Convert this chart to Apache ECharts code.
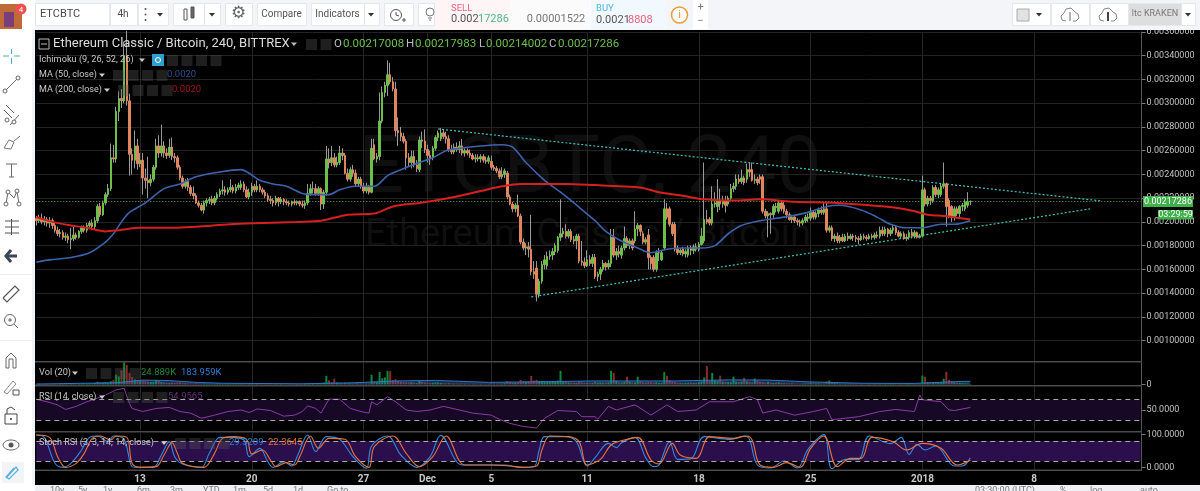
<!DOCTYPE html>
<html>
<head>
<meta charset="utf-8">
<title>ETCBTC</title>
<style>
html, body { margin: 0; padding: 0; background: #000; }
#chart { width: 1200px; height: 491px; }
</style>
<script src="https://cdn.jsdelivr.net/npm/echarts@6/dist/echarts.min.js"></script>
</head>
<body>
<div id="chart"></div>
<script>
// prices are in 1e-5 BTC, one bar every 4h
const opens = [
  203,201,203,200,202,199,201,197,193,190, 191,187,188,185,186,189,187,192,195,193,
  197,199,196,201,213,206,216,223,228,254, 253,293,304,302,340,302,257,252,264,249,
  252,237,235,233,236,246,264,258,264,258, 256,263,255,254,246,237,230,234,229,224,
  222,216,214,210,216,218,219,216,220,223, 226,227,225,227,229,226,229,229,232,227,
  221,225,230,227,230,227,225,222,219,218, 216,220,217,219,217,216,215,217,216,217,
  215,214,216,224,228,228,224,228,215,225, 253,250,254,248,250,258,256,241,236,244,
  241,232,236,230,226,229,225,265,253,255, 285,309,315,324,318,312,277,275,272,268,
  254,250,255,248,244,269,268,261,256,254, 262,271,270,275,272,270,261,259,263,261,
  264,258,260,258,256,253,254,253,255,252, 251,251,246,245,243,238,240,241,221,215,
  211,214,205,183,178,179,177,158,161,139, 150,164,163,171,172,175,176,187,190,192,
  188,192,185,184,188,167,166,163,168,165, 170,154,156,160,165,162,165,187,172,175,
  172,178,186,180,184,184,194,197,190,183, 189,170,170,160,174,168,178,211,211,198,
  198,177,174,177,173,172,178,176,179,177, 181,184,202,202,199,215,213,218,215,218,
  215,220,228,230,236,234,237,236,244,244, 235,236,238,238,209,205,207,206,213,209,
  216,214,209,206,202,204,201,200,199,201, 204,203,208,204,207,210,208,211,193,195,
  186,188,184,187,184,188,186,188,187,186, 185,188,187,186,188,187,189,188,193,190,
  194,190,193,195,191,188,190,186,187,191, 188,191,187,188,227,215,220,218,229,223,
  223,230,232,218,213,204,211,207,213,211, 214,217.008
];
const closes = [
  201,203,200,202,199,201,197,193,190,191, 187,188,185,186,189,187,192,195,193,197,
  199,196,201,213,206,216,223,228,254,253, 293,304,302,340,302,257,252,264,249,252,
  237,235,233,236,246,264,258,264,258,256, 263,255,254,246,237,230,234,229,224,222,
  216,214,210,216,218,219,216,220,223,226, 227,225,227,229,226,229,231,232,227,221,
  225,230,227,230,227,225,222,219,218,216, 220,217,219,217,216,215,217,216,217,215,
  214,216,224,228,228,224,228,215,225,253, 250,254,248,250,258,256,241,236,244,241,
  232,236,230,226,229,225,262,253,255,285, 309,315,324,318,312,277,275,272,268,254,
  250,255,248,245,269,268,261,256,254,262, 271,275,275,272,270,261,259,263,261,264,
  258,260,258,256,253,254,253,255,252,251, 254,246,245,243,238,240,243,221,215,211,
  214,205,183,178,179,177,158,156,139,150, 164,168,171,172,175,180,187,190,192,188,
  192,185,184,188,167,166,163,168,165,170, 154,156,160,165,162,165,187,172,175,173,
  178,186,180,184,178,194,197,192,183,185, 170,165,160,174,174,174,211,204,198,190,
  177,174,176,173,175,178,176,179,177,181, 188,202,200,199,215,216,218,215,218,214,
  220,228,230,236,234,237,233,244,242,235, 236,233,236,209,205,207,206,213,212,216,
  211,209,206,202,204,201,200,199,201,204, 203,208,204,207,210,208,211,193,195,186,
  188,184,187,184,188,186,188,187,186,185, 188,187,186,188,187,189,188,193,190,194,
  190,193,195,191,188,190,186,187,191,188, 191,187,188,227,215,220,218,229,223,227,
  230,232,213,205,204,211,207,213,214,217, 217,217.286
];
const lows = [
  197,199,198,197,196,195,194,191,188,187, 185,184,182,177,184,185,186,190,191,191,
  195,193,194,199,204,205,214,221,226,250, 250,285,296,300,298,239,240,245,244,246,
  223,228,220,230,234,244,254,255,254,253, 254,252,250,244,235,228,228,226,222,219,
  215,212,209,207,213,215,214,214,218,221, 223,222,223,225,224,224,227,227,225,220,
  219,222,225,225,225,223,220,217,215,213, 214,213,215,214,214,213,213,214,214,213,
  212,211,214,222,224,222,222,210,211,222, 245,247,246,246,248,252,240,234,234,238,
  230,230,228,224,224,223,224,252,250,252, 283,305,306,316,310,272,264,268,266,244,
  247,245,246,242,242,262,258,250,248,252, 260,268,268,270,266,259,257,257,259,258,
  256,255,256,254,252,250,251,250,250,249, 249,244,243,241,236,236,237,219,214,208,
  208,204,181,176,172,170,155,152,133,136, 148,160,160,168,168,172,174,184,187,186,
  186,183,181,177,165,163,161,162,163,162, 152,150,151,158,159,160,162,170,168,170,
  169,176,178,177,176,182,188,188,181,181, 160,160,158,158,167,167,176,202,196,188,
  175,172,172,171,170,170,172,173,175,175, 180,182,198,197,197,212,208,210,212,208,
  213,218,225,227,232,232,231,233,238,234, 232,231,232,207,203,187,190,203,208,207,
  209,207,203,201,199,199,197,196,197,199, 200,201,202,202,204,206,206,191,191,184,
  183,182,182,183,183,184,185,184,183,181, 184,185,184,185,185,185,186,186,188,188,
  187,188,190,189,187,186,185,184,185,186, 186,186,186,187,213,213,214,216,221,220,
  221,228,196,203,200,201,205,204,209,209, 212,214.002
];
const highs = [
  205,206,207,205,204,204,203,199,196,194, 193,191,190,195,196,191,193,197,197,199,
  201,202,204,215,216,218,225,232,266,265, 297,310,312,352,361,308,262,277,270,258,
  258,245,255,240,248,270,273,282,268,262, 270,271,258,256,248,239,236,237,231,230,
  224,218,216,218,220,221,222,222,225,228, 235,230,229,236,231,232,233,235,234,230,
  228,233,232,235,232,229,227,224,222,220, 222,221,221,220,219,218,218,219,218,218,
  218,218,232,232,234,232,230,229,227,264, 262,264,258,255,264,262,258,245,246,248,
  244,238,238,233,233,231,270,270,258,309, 314,318,336,334,322,318,288,280,275,270,
  258,260,260,252,272,276,278,265,260,264, 273,277,279,278,276,273,265,266,267,268,
  270,262,262,261,258,257,257,257,257,255, 256,256,248,247,245,246,245,243,223,217,
  216,223,207,186,182,183,206,167,167,152, 167,172,175,176,178,182,188,219,195,198,
  194,194,188,190,190,184,170,176,172,173, 173,158,162,168,166,168,194,194,178,180,
  180,196,188,186,186,209,199,198,192,187, 194,172,172,176,178,176,219,216,213,200,
  200,180,178,179,177,180,180,181,182,183, 195,250,210,204,230,225,236,228,222,222,
  222,232,233,240,240,244,239,249,250,250, 240,238,240,240,211,209,208,215,216,218,
  218,217,211,208,206,205,203,202,203,206, 207,212,210,209,212,213,216,216,197,197,
  190,191,189,190,190,191,190,190,189,188, 190,190,189,190,190,191,192,196,196,196,
  195,195,198,197,193,192,192,190,193,194, 193,192,190,239,229,222,222,231,231,229,
  232,250,233,220,214,213,213,214,216,219, 225,217.983
];
// volume, thousands
const volumes = [
  30,40,25,35,30,25,40,30,25,30, 35,30,25,40,30,25,30,35,40,30,
  45,60,90,150,120,110,130,100,180,260, 550,450,800,1250,1100,650,420,300,280,260,
  220,180,160,140,150,250,200,140,120,100, 90,110,90,110,120,90,70,60,60,55,
  70,60,50,55,40,35,40,30,45,40, 35,30,30,35,30,30,35,30,50,40,
  30,35,25,30,25,30,25,30,25,20, 25,20,25,20,20,25,20,20,25,30,
  35,45,50,35,40,30,40,60,110,490, 230,120,330,110,80,60,90,70,60,50,
  70,55,50,40,45,50,550,150,130,700, 350,400,770,750,250,300,200,150,130,120,
  110,130,100,90,200,150,120,90,80,100, 120,110,90,70,60,80,60,50,55,50,
  60,50,45,40,50,40,40,35,45,35, 40,60,50,45,60,50,70,200,150,120,
  100,120,250,180,150,160,480,220,260,200, 180,150,140,130,200,170,220,770,180,140,
  120,110,100,90,180,120,90,85,80,90, 160,110,120,100,110,130,770,660,200,120,
  110,140,440,150,110,120,440,180,120,100, 150,120,100,130,90,80,710,490,250,170,
  140,100,90,80,90,100,110,90,110,130, 170,400,1040,200,650,250,200,490,160,150,
  140,130,440,170,140,160,380,180,150,120, 340,200,150,130,100,150,110,90,110,130,
  90,80,70,60,60,50,45,40,50,60, 70,90,70,60,70,60,50,170,220,120,
  90,70,50,45,40,40,35,30,30,25, 30,25,25,30,25,30,30,60,40,50,
  40,50,70,45,40,35,30,35,60,40, 35,30,40,500,440,130,110,120,150,100,
  110,330,715,260,200,120,100,90,80,70, 60,25
];

// indicator lines read at their turning points: bar index + value
const volMaBars = [0,30,40,50,60,70,100,120,135,150,170,190,210,240,260,275,290,310,330,345,351];
const volMaVals = [25,100,250,220,120,70,40,100,200,230,120,160,200,200,260,250,150,70,60,160,184];
const ma50Bars = [0,5,13,20,26,29,32,35,41,48,54,60,69,77,80,84,89,94,100,105,110,114,120,127,132,137,144,149,154,159,167,175,179,184,191,197,202,210,214,219,226,231,237,243,250,255,260,265,272,281,290,297,302,310,316,321,327,333,340,345,351];
const ma50Vals = [166,168,170,174,183,190,200,208,216,228,232,238,242,244,241,235,232,230,224,223,223,227,230,230,239,244,250,254,260,262,264,265,263,250,235,225,216,201,192,185,178,174,177,178,178,180,190,197,201,204,208,213,214,210,204,198,195,195,198,198,201];
const ma200Bars = [0,6,13,19,26,31,39,48,60,73,85,98,107,117,127,134,144,157,167,175,182,192,199,210,219,227,234,243,251,262,272,285,301,313,323,330,335,341,345,351];
const ma200Vals = [204,200,197,195,192,193,195,195,196,198,199,200,201,206,207,213,216,221,226,230,232,232,232,231,230,229,225,222,219,218,219,217,216,214,212,209,206,205,204,202];
const trendUpBars = [151, 400];
const trendUpVals = [278.3, 217.7];
const trendLowBars = [186, 396];
const trendLowVals = [136.8, 211];
const rsiBars = [0,4,8,11,15,19,23,26,30,33,35,36,40,45,50,54,58,62,67,72,77,80,83,88,93,97,100,102,105,107,110,114,118,122,125,126,128,132,135,139,143,148,153,159,164,171,174,178,183,188,191,196,203,205,210,211,215,218,225,231,237,241,248,253,262,268,271,273,278,285,292,297,299,309,317,323,330,332,333,340,343,345,351];
const rsiVals = [71,66,60,51,57,66,73,79,89,92,63,53,47,53,55,47,44,34,40,47,50,45,52,49,38,40,47,58,53,44,71,71,53,47,44,66,60,76,66,50,47,50,57,50,44,40,32,24,18,15,34,49,47,37,37,32,57,50,60,40,60,47,50,66,66,76,70,44,50,40,47,53,31,37,47,51,47,79,70,66,50,49,55];
const kBars = [0,3,7,10,13,17,20,23,27,29,33,36,38,44,47,50,52,55,62,65,69,73,78,80,84,87,89,93,96,98,102,105,109,114,119,124,126,132,137,143,148,152,160,171,176,182,187,189,191,199,203,207,210,215,218,220,225,229,232,234,238,241,246,251,261,266,268,271,276,281,286,290,296,299,304,309,313,321,325,328,331,334,338,345,348,351];
const kVals = [98,91,13,1,13,53,91,95,78,95,85,3,1,1,38,78,33,11,1,43,91,91,83,33,58,18,1,18,5,33,98,48,93,85,33,-2,65,95,38,1,33,97,8,8,8,1,3,53,93,93,78,5,30,73,60,75,91,30,3,8,78,25,27,93,85,95,85,8,-1,20,-1,55,99,-3,25,25,95,72,91,40,70,53,65,5,5,29.32];
const dBars = [0,5,8,11,15,18,21,24,28,30,34,36,39,45,48,51,53,55,63,67,70,74,79,81,85,88,90,94,97,99,103,106,110,116,120,125,127,134,139,144,149,154,161,171,178,183,188,190,193,200,204,207,212,216,221,226,231,234,239,242,248,253,262,267,269,272,277,282,287,291,296,301,306,310,314,322,327,333,340,346,351];
const dVals = [98,91,33,1,13,43,88,95,83,95,91,13,1,3,38,75,43,13,1,43,88,93,85,41,53,23,3,15,8,33,95,58,88,85,33,1,63,95,43,3,33,95,8,8,5,1,5,53,95,93,78,8,25,68,83,91,23,11,73,38,28,93,88,95,83,8,1,15,1,58,95,3,28,28,91,78,53,73,58,8,22.36];

const barCount = 416;
const tickIndex = [39,81,123,147,171,207,249,291,333,375];
const tickLabels = ['13','20','27','Dec','5','11','18','25','2018','8'];
const priceUnit = 1e-5;
const lastPrice = 217.286;

const UP = '#6cc04a', DOWN = '#e0855c', WICK = '#9a9a9a';
const FONT = 'Roboto, "Liberation Sans", sans-serif';
const categories = Array.from({ length: barCount }, (_, i) => {
  const k = tickIndex.indexOf(i);
  return k < 0 ? '' : tickLabels[k];
});
const pairs = (xs, ys) => xs.map((x, k) => [x, ys[k]]);
const hasTick = (i) => tickIndex.includes(i);

// --- page furniture ---
const Z = 100;
const rect = (x, y, width, height, fill, stroke) => ({ type: 'rect', z: Z, shape: { x, y, width, height }, style: { fill, stroke: stroke || null, lineWidth: 1 } });
const line = (x1, y1, x2, y2, stroke, lineWidth) => ({ type: 'line', z: Z + 1, shape: { x1, y1, x2, y2 }, style: { stroke, lineWidth: lineWidth || 1, fill: null } });
const circle = (cx, cy, r, stroke, fill, lineWidth) => ({ type: 'circle', z: Z + 1, shape: { cx, cy, r }, style: { stroke: stroke || null, fill: fill || null, lineWidth: lineWidth || 1 } });
const text = (x, y, s, fill, size, align, z) => ({ type: 'text', z: z === undefined ? Z + 2 : z, style: { x, y, text: s, fill, font: size + 'px ' + FONT, align: align || 'left', verticalAlign: 'middle' } });
const arrow = (x, y, c) => ({ type: 'polygon', z: Z + 2, shape: { points: [[x - 3, y - 1.5], [x + 3, y - 1.5], [x, y + 2]] }, style: { fill: c || '#333' } });
const poly = (points, stroke, lineWidth) => ({ type: 'polyline', z: Z + 1, shape: { points }, style: { stroke, fill: null, lineWidth: lineWidth || 1 } });
const btn = (x, w) => rect(x + 0.5, 3.5, w, 22, '#fff', '#e4e7ec');
const squares = (x, y, n) => Array.from({ length: n }, (_, k) => rect(x + k * 14.5, y - 5, 11, 11, 'rgba(90,90,90,0.35)'));
const cloud = (cx, cy) => poly([[cx - 4, cy + 6], [cx - 8, cy + 5], [cx - 9, cy + 1], [cx - 6, cy - 2], [cx - 4, cy - 6], [cx + 1, cy - 7], [cx + 5, cy - 3], [cx + 8, cy - 1], [cx + 9, cy + 3], [cx + 6, cy + 6], [cx + 3, cy + 6]], '#888');

const furniture = [
  // watermark
  text(590, 172, 'ETCBTC, 240', '#0f0f0f', 80, 'center', 0),
  text(588, 236, 'Ethereum Classic / Bitcoin', '#0f0f0f', 38, 'center', 0),
  // pane separators
  rect(35, 361, 1107, 1.5, '#4a4a4a'), rect(35, 385, 1107, 1.5, '#4a4a4a'),
  rect(35, 431, 1107, 1.5, '#4a4a4a'), rect(35, 469.5, 1107, 1.5, '#4a4a4a'),
  // top bar
  rect(0, 0, 1200, 30, '#f3f5f8'),
  rect(434, 0, 76, 29, '#fff5f6'), rect(510, 0, 81, 29, '#fbfbfb'), rect(591, 0, 75, 29, '#f1f9fe'),
  btn(35, 74), text(40, 14.5, 'ETCBTC', '#4a4a4a', 11),
  btn(110, 27), text(123, 14.5, '4h', '#4a4a4a', 10, 'center'),
  btn(138, 30), circle(145.5, 9, 1, null, '#555'), circle(145.5, 14.5, 1, null, '#555'), circle(145.5, 20, 1, null, '#555'), arrow(160, 14.5),
  btn(173, 31), rect(184, 9, 3, 11, '#fff', '#555'), rect(191, 7, 3, 11, '#666', '#555'), btn(204, 16), arrow(212, 14.5),
  btn(225, 27), text(238.5, 14, '⚙', '#666', 17, 'center'),
  btn(257, 49), text(281.5, 14.5, 'Compare', '#555', 10, 'center'),
  btn(311, 53), text(337.5, 14.5, 'Indicators', '#555', 10, 'center'), btn(364, 15), arrow(371, 14.5),
  btn(384, 29), circle(396, 15, 5.5, '#555'), line(396, 12, 396, 15, '#555'), line(396, 15, 399, 16, '#555'), line(402, 20, 406, 20, '#555'), line(404, 18, 404, 22, '#555'),
  btn(418, 16), circle(430, 12, 4, '#777'), line(428, 18, 432, 18, '#777'), line(429, 20, 431, 20, '#777'),
  text(451, 8.5, 'SELL', '#ee5f7c', 9.5),
  text(451, 19.5, '0.002', '#555', 11), text(478, 19.5, '17286', '#51b58d', 11),
  text(556, 19, '0.00001522', '#777', 11, 'center'),
  text(596, 8.5, 'BUY', '#52b5e0', 9.5),
  text(596, 20, '0.0021', '#555', 11), text(628, 20, '8808', '#ee5f7c', 11),
  circle(679.5, 15, 8, '#ef9a3a', '#fff', 1.5), text(679.5, 15, 'i', '#ef9a3a', 11, 'center'),
  rect(693, 0, 15, 29, '#fff'), text(700.5, 7, '+', '#777', 11, 'center'), text(700.5, 21, '−', '#777', 11, 'center'),
  btn(1012, 38), rect(1017, 9, 12, 12, '#e2e2e2', '#aaa'), arrow(1039, 14.5),
  btn(1051, 38), cloud(1070, 15), line(1070, 12, 1070, 21, '#666'),
  btn(1090, 38), cloud(1108, 15), line(1108, 12, 1108, 21, '#444', 2),
  rect(1129, 3.5, 52, 22, '#dedede'), text(1155, 14, 'ltc KRAKEN', '#777', 9, 'center'),
  btn(1181, 14), arrow(1188, 14.5),
  // left bar
  rect(0, 0, 35, 491, '#fff'), rect(32, 30, 3, 455, '#f1f3f6'),
  rect(0, 4, 22, 25, '#c06a3a'), rect(4, 12, 10, 15, '#7a3f7a'), circle(21, 9, 5.5, null, '#f05050'), text(21, 9.5, '4', '#fff', 8, 'center'),
  line(11.5, 49, 11.5, 54, '#4ea6d8'), line(11.5, 58, 11.5, 64, '#4ea6d8'), line(3, 56, 9, 56, '#4ea6d8'), line(14, 56, 20, 56, '#4ea6d8'),
  line(6, 90, 17, 79, '#666'), circle(5, 91, 2, '#666', '#fff'), circle(18, 78, 2, '#666', '#fff'),
  line(4, 110, 12, 118, '#666'), line(6, 105, 14, 113, '#666'), line(10, 125, 19, 115, '#666'), circle(7, 120, 2, '#666', '#fff'), circle(14, 122, 2, '#666', '#fff'),
  poly([[4, 148], [9, 140], [14, 142], [11, 149], [4, 148]], '#777'), line(14, 141, 20, 136, '#777'),
  line(6, 164, 17, 164, '#666'), line(11.5, 164, 11.5, 177, '#666'), line(9, 177, 14, 177, '#666'),
  poly([[6, 204], [8, 192], [14, 198], [17, 191], [19, 204]], '#666'), circle(6, 204, 2, '#666', '#fff'), circle(8, 192, 2, '#666', '#fff'), circle(17, 191, 2, '#666', '#fff'), circle(19, 204, 2, '#666', '#fff'),
  line(5, 221, 19, 221, '#555'), line(5, 227, 19, 227, '#555'), line(5, 233, 19, 233, '#555'), line(11.5, 219, 11.5, 235, '#555'),
  poly([[17, 256], [6, 256]], '#3a4654', 3), poly([[11, 250], [6, 256], [11, 262]], '#3a4654', 3),
  rect(0, 274, 32, 1, '#eceef1'),
  poly([[3, 298], [15, 286], [19, 290], [7, 302], [3, 298]], '#555', 1.2),
  circle(10, 320, 5.5, '#666'), line(14, 324, 18, 328, '#666'), line(8, 320, 12, 320, '#666'), line(10, 318, 10, 322, '#666'),
  rect(0, 340, 32, 1, '#eceef1'),
  poly([[6, 368], [6, 358], [11, 353], [16, 358], [16, 368], [13, 368], [13, 359], [9, 359], [9, 368], [6, 368]], '#666'),
  poly([[4, 392], [13, 381], [16, 384], [7, 394], [4, 392]], '#888'), rect(13, 390, 6, 5, '#fff', '#555'),
  rect(5, 414, 12, 10, '#fff', '#444'), poly([[7, 414], [7, 409], [11, 407], [15, 410]], '#444'), circle(11, 419, 1, null, '#333'),
  { type: 'ellipse', z: Z + 1, shape: { cx: 11, cy: 445, rx: 8, ry: 5 }, style: { stroke: '#666', fill: null } }, circle(11, 445, 2.5, null, '#555'),
  rect(2, 462, 22, 21, '#f2f4f8'), poly([[7, 477], [16, 467], [18, 470], [9, 479], [6, 477], [14, 468]], '#5ab0e0', 1.3),
  // footer
  rect(35, 485, 1165, 6, '#eef0f3'),
  text(50, 491, '10y', '#777', 9), text(78, 491, '5y', '#777', 9), text(103, 491, '1y', '#777', 9), text(137, 491, '6m', '#777', 9),
  text(170, 491, '3m', '#777', 9), text(203, 491, 'YTD', '#777', 9), text(233, 491, '1m', '#777', 9), text(263, 491, '5d', '#777', 9),
  text(293, 491, '1d', '#777', 9), text(327, 491, 'Go to', '#777', 9),
  text(975, 491, '03:30:00 (UTC)', '#777', 9), text(1060, 491, '%', '#777', 9), text(1090, 491, 'log', '#777', 9), text(1140, 491, 'auto', '#777', 9),
  // legends
  rect(39, 39, 10, 10, null, '#bbb'), line(41, 44, 47, 44, '#bbb'),
  text(53, 44, 'Ethereum Classic / Bitcoin, 240, BITTREX', '#dcdcdc', 13),
  arrow(294, 44, '#bbb'), ...squares(306, 44, 2),
  text(334, 44, 'O', '#bbb', 11.5), text(343, 44, '0.00217008', '#6cc04a', 11.5),
  text(406, 44, 'H', '#bbb', 11.5), text(415, 44, '0.00217983', '#6cc04a', 11.5),
  text(479, 44, 'L', '#bbb', 11.5), text(486, 44, '0.00214002', '#6cc04a', 11.5),
  text(549, 44, 'C', '#bbb', 11.5), text(558, 44, '0.00217286', '#6cc04a', 11.5),
  text(39, 60, 'Ichimoku (9, 26, 52, 26)', '#c8c8c8', 9.2), arrow(142, 60, '#ccc'),
  rect(152, 54, 12, 12, '#2f9fd0'), circle(158, 60, 2.5, '#fff'), ...squares(167, 60, 4),
  text(39, 75, 'MA (50, close)', '#c8c8c8', 9), arrow(102, 75, '#ccc'), ...squares(113, 75, 4), text(167, 75, '0.0020', '#2f4f90', 9.5),
  text(39, 90, 'MA (200, close)', '#c8c8c8', 9), arrow(107, 90, '#ccc'), ...squares(118, 90, 4), text(172, 90, '0.0020', '#a01818', 9.5),
  text(39, 373, 'Vol (20)', '#c8c8c8', 9.2), arrow(75, 373, '#ccc'), ...squares(86, 373, 4), text(141, 373, '24.889K', '#1d8a38', 9.5), text(181, 373, '183.959K', '#2a7fd0', 9.5),
  text(39, 397, 'RSI (14, close)', '#c8c8c8', 9), arrow(102, 397, '#ccc'), ...squares(113, 397, 4), text(168, 397, '54.9565', '#6a2f80', 9.5),
  text(39, 443, 'Stoch RSI (3, 3, 14, 14, close)', '#c8c8c8', 9), arrow(164, 443, '#ccc'), ...squares(175, 443, 4), text(229, 443, '29.3209', '#2a7fd0', 9.5), text(268, 443, '22.3645', '#e07030', 9.5),
  // last price + countdown
  rect(1143, 196, 50, 11, '#3fb04a'), text(1168, 201.5, '0.00217286', '#fff', 9, 'center'),
  rect(1158, 210, 35, 9.5, '#3fb04a'), text(1175.5, 215, '03:29:59', '#fff', 9, 'center')
];

// --- axes ---
const GRID_LEFT = 36.3, GRID_W = 1104.3;
const grids = [
  { left: GRID_LEFT, width: GRID_W, top: 32, height: 332.3 },
  { left: GRID_LEFT, width: GRID_W, top: 362, height: 22.5 },
  { left: GRID_LEFT, width: GRID_W, top: 386.3, height: 44.3 },
  { left: GRID_LEFT, width: GRID_W, top: 433, height: 37 }
];
const xAxes = grids.map((_, g) => ({
  type: 'category', gridIndex: g, data: categories, boundaryGap: false,
  axisLine: { show: false }, axisTick: { show: false },
  splitLine: { show: true, interval: hasTick, lineStyle: { color: '#262626', width: 1 } },
  axisLabel: g === 3
    ? { show: true, interval: hasTick, color: '#c8c8c8', fontSize: 10, fontWeight: 'bold', fontFamily: FONT, margin: 4 }
    : { show: false }
}));
const yLabel = { color: '#c0c0c0', fontSize: 9, fontFamily: FONT, margin: 5 };
const yBase = { type: 'value', position: 'right', offset: 1, scale: true,
  axisLine: { show: true, lineStyle: { color: '#555' } },
  axisTick: { show: true, length: 4, lineStyle: { color: '#777' } } };
const yAxes = [
  { ...yBase, gridIndex: 0, min: 80, max: 360, interval: 20,
    axisLabel: { ...yLabel, showMinLabel: false, formatter: (v) => (v * priceUnit).toFixed(8) },
    splitLine: { show: true, showMinLine: false, lineStyle: { color: '#222' } } },
  { ...yBase, gridIndex: 1, min: 0, max: 1265, splitLine: { show: false },
    axisLabel: { ...yLabel, customValues: [0] }, axisTick: { ...yBase.axisTick, customValues: [0] } },
  { ...yBase, gridIndex: 2, min: 10, max: 96, splitLine: { show: false },
    axisLabel: { ...yLabel, customValues: [50], formatter: (v) => v.toFixed(4) }, axisTick: { ...yBase.axisTick, customValues: [50] } },
  { ...yBase, gridIndex: 3, min: -7, max: 104, splitLine: { show: false },
    axisLabel: { ...yLabel, customValues: [0, 100], formatter: (v) => v.toFixed(4) }, axisTick: { ...yBase.axisTick, customValues: [0, 100] } }
];

const curve = (name, bars, vals, color, width, g, extra) => ({
  name, type: 'line', xAxisIndex: g, yAxisIndex: g, data: pairs(bars, vals),
  showSymbol: false, silent: true, z: 4, lineStyle: { color, width }, itemStyle: { color }, ...extra
});
const band = (lo, hi, color, guides, guideColor) => ({
  markArea: { silent: true, itemStyle: { color }, data: [[{ yAxis: lo }, { yAxis: hi }]] },
  markLine: { silent: true, symbol: 'none', label: { show: false }, animation: false,
    lineStyle: { color: guideColor, type: [5, 4], width: 1 }, data: guides.map((v) => ({ yAxis: v })) }
});
const TREND = { color: '#3fc4ba', width: 1.2, type: [2, 2] };

const series = [
  // wicks and bodies are two layers, wicks stay grey
  { name: 'wick', type: 'candlestick', xAxisIndex: 0, yAxisIndex: 0, barWidth: 1, clip: false, z: 3, silent: true,
    data: opens.map((o, i) => [o, closes[i], lows[i], highs[i]]),
    itemStyle: { color: WICK, color0: WICK, borderColor: WICK, borderColor0: WICK, borderWidth: 1 } },
  { name: 'body', type: 'candlestick', xAxisIndex: 0, yAxisIndex: 0, barWidth: 2, clip: false, z: 5, silent: true,
    data: opens.map((o, i) => [o, closes[i], Math.min(o, closes[i]), Math.max(o, closes[i])]),
    itemStyle: { color: UP, color0: DOWN, borderColor: UP, borderColor0: DOWN, borderWidth: 1 },
    markLine: { silent: true, symbol: 'none', label: { show: false }, animation: false,
      lineStyle: { color: '#5fb44a', type: [1, 2], width: 1 }, data: [{ yAxis: lastPrice }] } },
  curve('MA 50', ma50Bars, ma50Vals, '#3d63ad', 1.6, 0, { smooth: 0.3, z: 6 }),
  curve('MA 200', ma200Bars, ma200Vals, '#d61f1f', 2, 0, { smooth: 0.3, z: 6 }),
  curve('trend high', trendUpBars, trendUpVals, TREND.color, 1, 0, { lineStyle: TREND }),
  curve('trend low', trendLowBars, trendLowVals, TREND.color, 1, 0, { lineStyle: TREND }),
  { name: 'Vol', type: 'bar', xAxisIndex: 1, yAxisIndex: 1, barWidth: 2, silent: true, data: volumes, z: 3,
    itemStyle: { color: (p) => (closes[p.dataIndex] >= opens[p.dataIndex] ? '#0a8a36' : '#8c2a2a') } },
  curve('Vol MA', volMaBars, volMaVals, '#2a78c8', 1, 1, { areaStyle: { color: 'rgba(70,110,190,0.55)' } }),
  curve('RSI', rsiBars, rsiVals, '#8a3aa6', 1, 2, band(30, 70, '#170926', [30, 70], '#a9a9a9')),
  curve('Stoch K', kBars, kVals, '#2f8ae0', 1.1, 3, { smooth: 0.35, ...band(20, 80, '#2a0f4c', [20, 80], '#a9a9a9') }),
  curve('Stoch D', dBars, dVals, '#e8733a', 1.1, 3, { smooth: 0.35, z: 5 })
];

const chart = echarts.init(document.getElementById('chart'));
chart.setOption({
  animation: false,
  backgroundColor: '#000',
  grid: grids,
  xAxis: xAxes,
  yAxis: yAxes,
  series,
  graphic: { elements: furniture }
});
</script>
</body>
</html>
